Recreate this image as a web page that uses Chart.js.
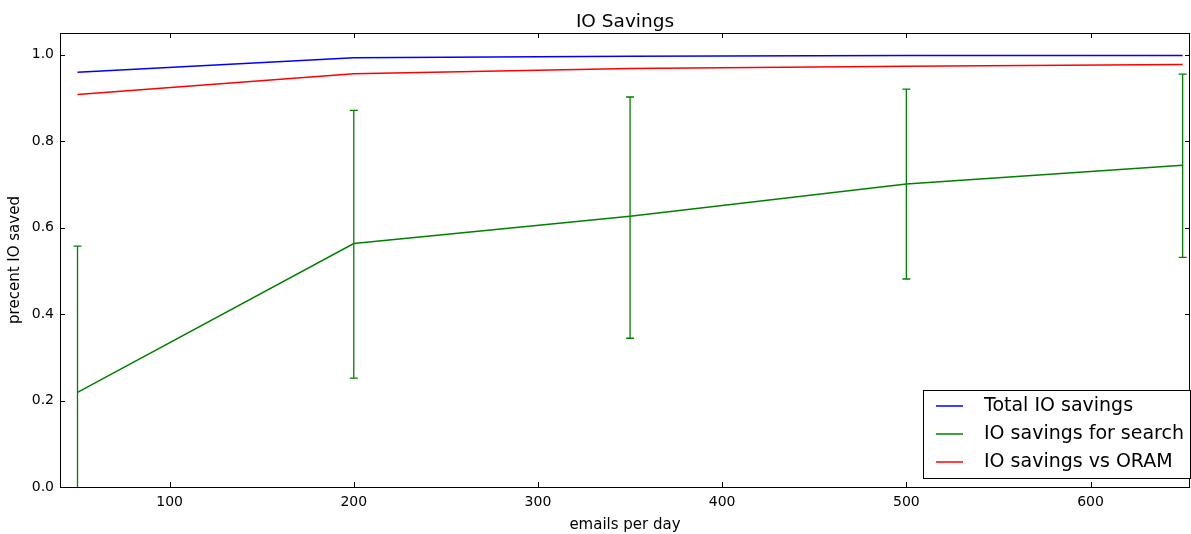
<!DOCTYPE html>
<html>
<head>
<meta charset="utf-8">
<script src="https://cdn.jsdelivr.net/npm/chart.js@4"></script>
<style>
    html, body { margin: 0; padding: 0; background: #fff; }
    #wrap { width: 1191px; height: 534px; }
</style>
</head>
<body>
<div id="wrap"><canvas id="ioChart"></canvas></div>
<script>
// emails per day
const emails = [50, 200, 350, 500, 650];

// series
const totalSavings = [0.959, 0.993, 0.996, 0.998, 0.998];
const searchSavings = [0.219, 0.563, 0.626, 0.701, 0.744];
const oramSavings = [0.908, 0.956, 0.968, 0.973, 0.977];

// error bars for the search series (lower / upper ends)
const searchLow = [-0.12, 0.252, 0.344, 0.481, 0.531];
const searchHigh = [0.557, 0.871, 0.902, 0.920, 0.955];

const xTicks = [100, 200, 300, 400, 500, 600];
const yTicks = [0.0, 0.2, 0.4, 0.6, 0.8, 1.0];

const FONT = 'DejaVu Sans';
const CHART_TITLE = 'IO Savings';

function toPoints(values) {
    return emails.map((x, i) => ({ x: x, y: values[i] }));
}

// title centred over the plot area, like matplotlib does
const titlePlugin = {
    id: 'axesTitle',
    afterDraw(chart) {
        const ctx = chart.ctx;
        const a = chart.chartArea;
        ctx.save();
        ctx.font = '18.5px ' + FONT;
        ctx.fillStyle = '#000';
        ctx.textAlign = 'center';
        ctx.textBaseline = 'alphabetic';
        ctx.fillText(CHART_TITLE, (a.left + a.right) / 2, 27);
        ctx.restore();
    }
};

// frame and inward ticks on all four sides, matplotlib style
const framePlugin = {
    id: 'frame',
    afterDraw(chart) {
        const ctx = chart.ctx;
        const a = chart.chartArea;
        const xs = chart.scales.x;
        const ys = chart.scales.y;
        ctx.save();
        ctx.strokeStyle = '#000';
        ctx.lineWidth = 1;
        ctx.beginPath();
        xTicks.forEach(v => {
            const px = Math.round(xs.getPixelForValue(v)) + 0.5;
            ctx.moveTo(px, a.bottom); ctx.lineTo(px, a.bottom - 5);
            ctx.moveTo(px, a.top); ctx.lineTo(px, a.top + 5);
        });
        yTicks.forEach(v => {
            const py = Math.round(ys.getPixelForValue(v)) + 0.5;
            ctx.moveTo(a.left, py); ctx.lineTo(a.left + 5, py);
            ctx.moveTo(a.right, py); ctx.lineTo(a.right - 5, py);
        });
        ctx.stroke();
        ctx.strokeRect(Math.round(a.left) + 0.5, Math.round(a.top) + 0.5,
            Math.round(a.right - a.left) - 1, Math.round(a.bottom - a.top));
        ctx.restore();
    }
};

// vertical error bars with caps for the search series
const errorBarPlugin = {
    id: 'errorBars',
    afterDatasetsDraw(chart) {
        const ctx = chart.ctx;
        const a = chart.chartArea;
        const xs = chart.scales.x;
        const ys = chart.scales.y;
        ctx.save();
        ctx.beginPath();
        ctx.rect(a.left, a.top, a.right - a.left, a.bottom - a.top);
        ctx.clip();
        ctx.strokeStyle = '#008000';
        ctx.lineWidth = 1.3;
        ctx.beginPath();
        emails.forEach((x, i) => {
            const px = xs.getPixelForValue(x);
            const yLo = ys.getPixelForValue(searchLow[i]);
            const yHi = ys.getPixelForValue(searchHigh[i]);
            ctx.moveTo(px, yLo); ctx.lineTo(px, yHi);
            ctx.moveTo(px - 4, yHi); ctx.lineTo(px + 4, yHi);
            ctx.moveTo(px - 4, yLo); ctx.lineTo(px + 4, yLo);
        });
        ctx.stroke();
        ctx.restore();
    }
};

// legend box in the lower right corner of the plot
const legendPlugin = {
    id: 'cornerLegend',
    afterDraw(chart) {
        const ctx = chart.ctx;
        const a = chart.chartArea;
        const sets = chart.data.datasets;
        const boxW = 267, rowH = 28, boxH = 88;
        const left = a.right - boxW, top = a.bottom - 9 - boxH;
        ctx.save();
        ctx.fillStyle = '#fff';
        ctx.fillRect(left, top, boxW, boxH);
        ctx.strokeStyle = '#000';
        ctx.lineWidth = 1;
        ctx.strokeRect(Math.round(left) + 0.5, Math.round(top) + 0.5, boxW, boxH);
        ctx.font = '19px ' + FONT;
        ctx.textBaseline = 'middle';
        sets.forEach((ds, i) => {
            const cy = top + 16 + i * rowH;
            ctx.strokeStyle = ds.borderColor;
            ctx.lineWidth = 1.5;
            ctx.beginPath();
            ctx.moveTo(left + 13, cy); ctx.lineTo(left + 40, cy);
            ctx.stroke();
            ctx.fillStyle = '#000';
            ctx.fillText(ds.label, left + 61, cy);
        });
        ctx.restore();
    }
};

document.addEventListener('DOMContentLoaded', function() {
    const ctx = document.getElementById('ioChart').getContext('2d');
    new Chart(ctx, {
        type: 'line',
        data: {
            datasets: [
                { label: 'Total IO savings', data: toPoints(totalSavings), borderColor: '#0000ff' },
                { label: 'IO savings for search', data: toPoints(searchSavings), borderColor: '#008000' },
                { label: 'IO savings vs ORAM', data: toPoints(oramSavings), borderColor: '#ff0000' }
            ]
        },
        options: {
            responsive: true,
            maintainAspectRatio: false,
            animation: false,
            layout: { padding: { left: 0, right: 1, top: 33, bottom: 0 } },
            elements: {
                line: { borderWidth: 1.5, tension: 0, fill: false },
                point: { radius: 0 }
            },
            scales: {
                x: {
                    type: 'linear',
                    min: 40.5,
                    max: 654,
                    afterBuildTicks: s => { s.ticks = xTicks.map(v => ({ value: v })); },
                    afterFit: s => { s.height = 47; },
                    grid: { display: false, drawTicks: false },
                    border: { display: false },
                    ticks: { color: '#000', font: { family: FONT, size: 14 }, padding: 7, maxRotation: 0 },
                    title: { display: true, text: 'emails per day', color: '#000',
                             font: { family: FONT, size: 15 }, padding: { top: 0, bottom: 0 } }
                },
                y: {
                    min: 0,
                    max: 1.05,
                    afterBuildTicks: s => { s.ticks = yTicks.map(v => ({ value: v })); },
                    afterFit: s => { s.width = 60; },
                    grid: { display: false, drawTicks: false },
                    border: { display: false },
                    ticks: { color: '#000', font: { family: FONT, size: 14 }, padding: 6,
                             callback: v => v.toFixed(1) },
                    title: { display: true, text: 'precent IO saved', color: '#000',
                             font: { family: FONT, size: 15 }, padding: { top: 6, bottom: 0 } }
                }
            },
            plugins: {
                legend: { display: false },
                tooltip: { enabled: false },
                title: { display: false }
            }
        },
        plugins: [errorBarPlugin, framePlugin, legendPlugin, titlePlugin]
    });
});
</script>
</body>
</html>
